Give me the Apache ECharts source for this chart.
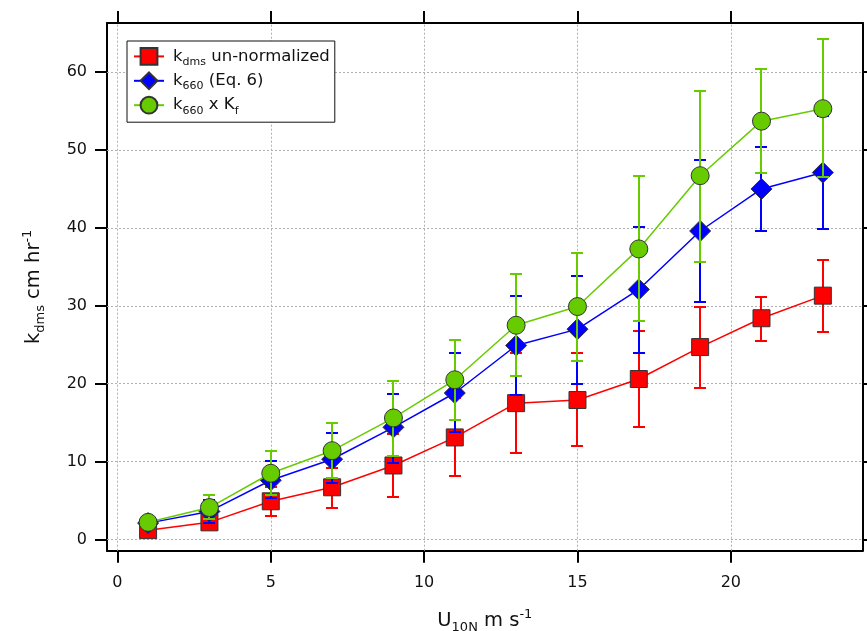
<!DOCTYPE html>
<html><head><meta charset="utf-8">
<script src="https://cdn.jsdelivr.net/npm/echarts@6/dist/echarts.min.js"></script>
<style>html,body{margin:0;padding:0;background:#fff}#c{width:867px;height:631px}</style>
</head><body><div id="c"></div>
<script>
const windSpeed = [1, 3, 5, 7, 9, 11, 13, 15, 17, 19, 21, 23];
const kdms   = [1.2, 2.2, 4.9, 6.7, 9.5, 13.1, 17.5, 17.9, 20.6, 24.7, 28.4, 31.3];
const kdmsLo = [1.0, 2.0, 3.0, 4.1, 5.5, 8.1, 11.1, 12.0, 14.4, 19.5, 25.5, 26.6];
const kdmsHi = [1.4, 2.5, 6.8, 9.2, 13.5, 18.1, 24.0, 23.9, 26.7, 29.9, 31.1, 35.9];
const k660   = [2.1, 3.6, 7.6, 10.3, 14.4, 18.8, 24.9, 27.0, 32.1, 39.6, 45.0, 47.1];
const k660Lo = [1.8, 2.1, 5.3, 7.3, 9.8, 13.8, 18.5, 20.0, 24.0, 30.5, 39.6, 39.8];
const k660Hi = [2.4, 5.1, 10.1, 13.7, 18.7, 23.9, 31.2, 33.8, 40.1, 48.7, 50.4, 54.3];
const k660Kf   = [2.2, 4.1, 8.5, 11.4, 15.6, 20.5, 27.5, 29.9, 37.3, 46.7, 53.7, 55.3];
const k660KfLo = [1.9, 2.6, 5.7, 7.9, 10.7, 15.3, 21.0, 22.9, 28.0, 35.6, 47.0, 46.5];
const k660KfHi = [2.5, 5.7, 11.3, 15.0, 20.4, 25.6, 34.1, 36.8, 46.6, 57.6, 60.4, 64.3];
const xTicks = [0, 5, 10, 15, 20];
const yTicks = [0, 10, 20, 30, 40, 50, 60];
const seriesNames = ['kdms', 'k660eq6', 'k660Kf'];

const FONT = 'DejaVu Sans';
const chart = echarts.init(document.getElementById('c'));

function errSeries(name, lo, hi, color, z) {
  return {
    type: 'custom', name: name, z: z, silent: true,
    data: windSpeed.map((x, i) => [x, lo[i], hi[i]]),
    encode: { x: 0, y: [1, 2] },
    renderItem: function (params, api) {
      const x = api.value(0);
      const p1 = api.coord([x, api.value(1)]);
      const p2 = api.coord([x, api.value(2)]);
      const cx = Math.round(p1[0]);
      const y1 = Math.round(p1[1]), y2 = Math.round(p2[1]);
      const w = 6;
      const style = { stroke: color, lineWidth: 2 };
      return { type: 'group', children: [
        { type: 'line', shape: { x1: cx, y1: y1, x2: cx, y2: y2 }, style: style },
        { type: 'line', shape: { x1: cx - w, y1: y1, x2: cx + w, y2: y1 }, style: style },
        { type: 'line', shape: { x1: cx - w, y1: y2, x2: cx + w, y2: y2 }, style: style }
      ] };
    }
  };
}
function lineSeries(name, vals, color, symbol, size, z) {
  return {
    type: 'line', name: name, z: z, symbol: symbol, symbolSize: size,
    data: windSpeed.map((x, i) => [x, vals[i]]),
    lineStyle: { color: color, width: 1.5 },
    itemStyle: { color: color, borderColor: '#333', borderWidth: 1, opacity: 1 },
    emphasis: { disabled: true }
  };
}
const gridLineStyle = { color: '#b0b0b0', type: [2, 2], width: 1 };
const axisCommon = {
  type: 'value',
  axisLine: { show: true, onZero: false, lineStyle: { color: '#000', width: 2 } },
  axisTick: { show: true, inside: false, length: 12, lineStyle: { color: '#000', width: 2 } },
  splitLine: { show: false }
};
const labelStyle = { color: '#111', fontFamily: FONT, fontSize: 16 };
const nameRich = {
  n: { fontFamily: FONT, fontSize: 19.5, color: '#111', lineHeight: 26 },
  s: { fontFamily: FONT, fontSize: 13, color: '#111', lineHeight: 13, verticalAlign: 'bottom' },
  p: { fontFamily: FONT, fontSize: 13, color: '#111', lineHeight: 13, verticalAlign: 'top' }
};

const option = {
  animation: false,
  backgroundColor: '#fff',
  grid: { left: 107, right: 4.3, top: 23, bottom: 80.3, containLabel: false, outerBoundsMode: 'none' },
  xAxis: [
    Object.assign({}, axisCommon, {
      position: 'bottom', min: -0.34, max: 24.3,
      axisTick: Object.assign({}, axisCommon.axisTick, { customValues: xTicks }),
      axisLabel: Object.assign({ customValues: xTicks, margin: 24 }, labelStyle),
      name: '{n|U}{s|10N}{n| m s}{p|-1}', nameLocation: 'middle', nameGap: 57,
      nameTextStyle: { rich: nameRich }
    }),
    Object.assign({}, axisCommon, {
      position: 'top', min: -0.34, max: 24.3,
      axisTick: Object.assign({}, axisCommon.axisTick, { customValues: xTicks }),
      axisLabel: { show: false }
    })
  ],
  yAxis: [
    Object.assign({}, axisCommon, {
      position: 'left', min: -1.44, max: 66.3,
      axisTick: Object.assign({}, axisCommon.axisTick, { customValues: yTicks }),
      axisLabel: Object.assign({ customValues: yTicks, margin: 20 }, labelStyle),
      name: '{n|k}{s|dms}{n| cm hr}{p|-1}', nameLocation: 'middle', nameGap: 60, nameRotate: 90,
      nameTextStyle: { rich: nameRich }
    }),
    Object.assign({}, axisCommon, {
      position: 'right', min: -1.44, max: 66.3,
      axisTick: Object.assign({}, axisCommon.axisTick, { customValues: yTicks }),
      axisLabel: { show: false }
    })
  ],
  legend: {
    data: seriesNames,
    orient: 'vertical', left: 127, top: 41, z: 20,
    backgroundColor: '#fff', borderColor: '#111', borderWidth: 1,
    padding: [6, 5, 6, 6], itemGap: 4, itemWidth: 30, itemHeight: 21,
    selectedMode: false,
    formatter: function (name) {
      if (name === 'kdms') return '{n|k}{s|dms}{n| un-normalized}';
      if (name === 'k660eq6') return '{n|k}{s|660}{n| (Eq. 6)}';
      return '{n|k}{s|660}{n| x K}{s|f}';
    },
    textStyle: {
      padding: [0, 0, 0, 4],
      rich: {
        n: { fontFamily: FONT, fontSize: 16.5, color: '#111', lineHeight: 22 },
        s: { fontFamily: FONT, fontSize: 11, color: '#111', lineHeight: 11, verticalAlign: 'bottom' }
      }
    }
  },
  series: [
    {
      type: 'line', name: 'gridlines', data: [], z: 1, silent: true,
      markLine: {
        silent: true, symbol: 'none', animation: false, z: 1,
        label: { show: false }, lineStyle: gridLineStyle,
        data: xTicks.map(v => ({ xAxis: v })).concat(yTicks.map(v => ({ yAxis: v })))
      }
    },
    errSeries('kdmsErr', kdmsLo, kdmsHi, '#ff0000', 12),
    lineSeries('kdms', kdms, '#ff0000', 'rect', 17, 13),
    errSeries('k660Err', k660Lo, k660Hi, '#0000ff', 14),
    lineSeries('k660eq6', k660, '#0000ff', 'diamond', 21, 15),
    errSeries('k660KfErr', k660KfLo, k660KfHi, '#66cc00', 16),
    lineSeries('k660Kf', k660Kf, '#66cc00', 'circle', 18, 17)
  ]
};
chart.setOption(option);
</script>
</body></html>
